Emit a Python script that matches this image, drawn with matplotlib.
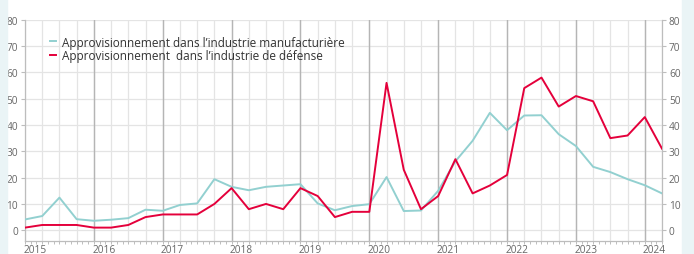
import numpy as np
import matplotlib
matplotlib.use('Agg')
import matplotlib.pyplot as plt
from matplotlib.patches import Rectangle

# données trimestrielles 2015T1 - 2024T2
years = list(range(2015, 2025))
quarters = [2015 + i / 4 for i in range(38)]

manufacturing = [4.1, 5.4, 12.4, 4.2, 3.6, 4.0, 4.6, 7.8, 7.4, 9.6,
                 10.2, 19.4, 16.5, 15.2, 16.5, 17.0, 17.5, 10.2, 7.6, 9.2,
                 9.9, 20.2, 7.3, 7.5, 15.0, 26.2, 34.0, 44.6, 38.0, 43.6,
                 43.7, 36.5, 32.0, 24.1, 22.1, 19.4, 17.1, 14.0]
defense = [1, 2, 2, 2, 1, 1, 2, 5, 6, 6,
           6, 10, 16, 8, 10, 8, 16, 13, 5, 7,
           7, 56, 23, 8, 13, 27, 14, 17, 21, 54,
           58, 47, 51, 49, 35, 36, 43, 31]

label_manuf = "Approvisionnement dans l\u2019industrie manufacturière"
label_def = "Approvisionnement  dans l\u2019industrie de défense"

plt.rcParams['font.family'] = ['Open Sans', 'DejaVu Sans']

fig = plt.figure(figsize=(6.94, 2.55), dpi=100)
# bandes latérales
fig.patches.append(Rectangle((0, 0), 7 / 694, 1, transform=fig.transFigure,
                             color='#eaf4f6', zorder=0))
fig.patches.append(Rectangle((682 / 694, 0), 12 / 694, 1, transform=fig.transFigure,
                             color='#eaf4f6', zorder=0))

ax = fig.add_axes([25 / 694, 1 - 242.3 / 255, (662 - 25) / 694, (242.3 - 20.7) / 255])

ax.set_xlim(2015, 2024.25)
ax.set_ylim(-4.2, 80)

# grille
for q in quarters:
    ax.axvline(q, color='#e4e4e4', lw=0.9, zorder=1)
for y in range(0, 81, 10):
    ax.axhline(y, color='#e4e4e4', lw=0.9, zorder=1)
for yr in years[1:]:
    ax.axvline(yr, color='#b5b5b5', lw=1.0, zorder=1)

ax.plot(quarters, manufacturing, color='#92d0d0', lw=1.4, zorder=3, label=label_manuf)
ax.plot(quarters, defense, color='#e4003b', lw=1.4, zorder=4, label=label_def)

for s in ['left', 'right', 'bottom', 'top']:
    ax.spines[s].set_color('#bdbdbd')
    ax.spines[s].set_linewidth(0.9)
ax.spines['top'].set_visible(False)

ax.set_yticks(range(0, 81, 10))
ax.tick_params(axis='y', which='both', left=True, right=True, labelleft=True,
               labelright=True, length=3, width=0.8, color='#bdbdbd',
               labelsize=7.3, labelcolor='#666666', pad=2)
ax.set_xticks(years)
ax.set_xticklabels([])
ax.set_xticks(np.arange(2015, 2024.26, 1 / 12), minor=True)
ax.tick_params(axis='x', which='both', length=2.5, width=0.7, color='#bdbdbd')
for yr in years:
    ax.text(yr - 0.025, -0.012, str(yr), transform=ax.get_xaxis_transform(),
            ha='left', va='top', fontsize=7.3, color='#666666')

leg = ax.legend(loc='upper left', bbox_to_anchor=(0.032, 0.95), frameon=False,
                fontsize=8.5, handlelength=0.5, handletextpad=0.5,
                labelspacing=0.05, borderaxespad=0)
for t in leg.get_texts():
    t.set_color('#333333')

fig.savefig('out.png', dpi=100)
